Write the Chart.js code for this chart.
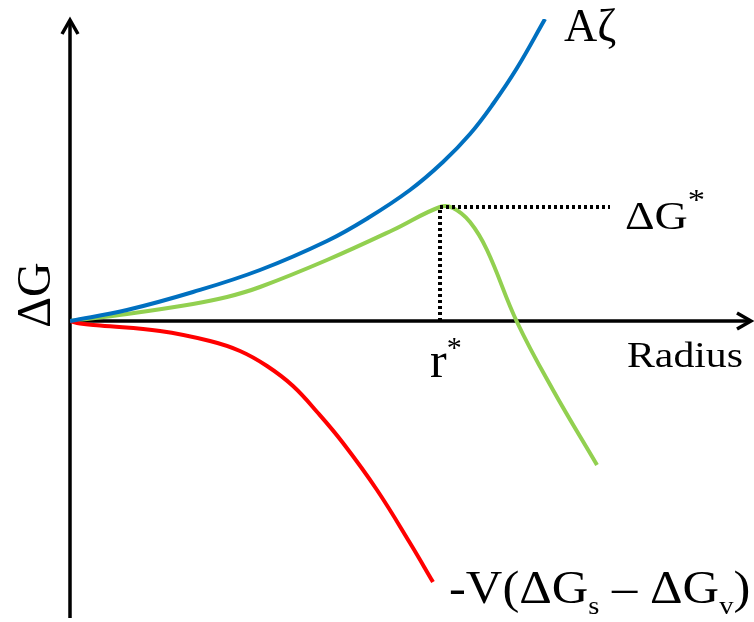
<!DOCTYPE html>
<html>
<head>
<meta charset="utf-8">
<script src="https://cdn.jsdelivr.net/npm/chart.js@4"></script>
<style>
  html, body { margin: 0; padding: 0; background: #fff; }
  #wrap { width: 754px; height: 622px; }
</style>
</head>
<body>
<div id="wrap"><canvas id="myChart"></canvas></div>
<script>
// radius / free-energy curves for nucleation
const surfaceR = [0, 0.57, 1.23, 1.90, 2.57, 2.98, 3.40, 3.73, 4.00, 4.23, 4.47, 4.75];
const surfaceG = [0, 0.11, 0.29, 0.51, 0.80, 1.03, 1.31, 1.59, 1.87, 2.17, 2.53, 3.02];

const totalR = [0, 0.57, 1.23, 1.57, 1.90, 2.57, 3.23, 3.70, 3.83, 4.00, 4.17, 4.47, 4.83, 5.27];
const totalG = [0, 0.07, 0.17, 0.24, 0.34, 0.61, 0.91, 1.14, 1.13, 0.99, 0.71, -0.01, -0.69, -1.44];

const volumeR = [0, 0.10, 0.30, 0.90, 1.40, 1.70, 1.97, 2.23, 2.48, 2.73, 3.07, 3.40, 3.63];
const volumeG = [0, -0.025, -0.045, -0.10, -0.20, -0.30, -0.45, -0.65, -0.92, -1.22, -1.69, -2.22, -2.61];

const rStar = 3.70;
const dgStar = 1.14;
const guideEnd = 5.40;

const xMax = 6.82;
const yMin = -2.97;
const yMax = 3.02;

const pts = (xs, ys) => xs.map((x, i) => ({ x: x, y: ys[i] }));

const SERIF = '"Liberation Serif", "Times New Roman", serif';

// draws a run of text pieces left to right, each with own size and baseline shift;
// sx stretches the run horizontally
function drawRun(ctx, x, y, parts, sx) {
  sx = sx || 1;
  ctx.save();
  ctx.translate(x, y);
  ctx.scale(sx, 1);
  let cx = 0;
  parts.forEach((p) => {
    ctx.font = p.size + "px " + SERIF;
    ctx.fillText(p.t, cx, p.dy || 0);
    cx += ctx.measureText(p.t).width + (p.gap || 0);
  });
  ctx.restore();
}

function arrowHead(ctx, tx, ty, dir) {
  ctx.beginPath();
  if (dir === "up") {
    ctx.moveTo(tx - 8, ty + 14);
    ctx.lineTo(tx, ty);
    ctx.lineTo(tx + 8, ty + 14);
  } else {
    ctx.moveTo(tx - 14, ty - 8);
    ctx.lineTo(tx, ty);
    ctx.lineTo(tx - 14, ty + 8);
  }
  ctx.stroke();
}

const axesPlugin = {
  id: "axesPlugin",
  beforeDatasetsDraw(chart) {
    const { ctx, chartArea, scales } = chart;
    const x0 = scales.x.getPixelForValue(0);
    const y0 = scales.y.getPixelForValue(0);
    ctx.save();
    ctx.strokeStyle = "#000";
    ctx.lineWidth = 3.5;
    ctx.lineCap = "butt";
    ctx.beginPath();
    ctx.moveTo(x0, chartArea.bottom);
    ctx.lineTo(x0, chartArea.top + 1);
    ctx.moveTo(x0, y0);
    ctx.lineTo(chartArea.right - 1, y0);
    ctx.stroke();
    ctx.lineJoin = "miter";
    arrowHead(ctx, x0, chartArea.top + 1, "up");
    arrowHead(ctx, chartArea.right - 1, y0, "right");
    ctx.restore();
  },
  afterDatasetsDraw(chart) {
    const { ctx, scales } = chart;
    const px = (v) => scales.x.getPixelForValue(v);
    const py = (v) => scales.y.getPixelForValue(v);
    ctx.save();
    ctx.fillStyle = "#000";
    ctx.textBaseline = "alphabetic";

    // curve labels
    drawRun(ctx, px(surfaceR[surfaceR.length - 1]) + 19, 41, [{ t: "A\u03B6", size: 46 }]);
    drawRun(ctx, px(guideEnd) + 15, py(dgStar) + 22, [
      { t: "\u0394G", size: 40 },
      { t: "*", size: 30, dy: -20 },
    ], 1.15);
    drawRun(ctx, px(rStar) - 10, py(0) + 56, [
      { t: "r", size: 50 },
      { t: "*", size: 30, dy: -20 },
    ]);
    drawRun(ctx, 627, py(0) + 46, [{ t: "Radius", size: 36 }], 1.16);
    drawRun(ctx, 449, 603, [
      { t: "-V(\u0394G", size: 46 },
      { t: "s", size: 26, dy: 11 },
      { t: " \u2013 \u0394G", size: 46 },
      { t: "v", size: 26, dy: 11 },
      { t: ")", size: 46 },
    ], 1.1);

    // vertical axis title
    ctx.translate(50, 295);
    ctx.rotate(-Math.PI / 2);
    ctx.textAlign = "center";
    ctx.font = "48px " + SERIF;
    ctx.fillText("\u0394G", 0, 0);
    ctx.restore();
  },
};

const ctx = document.getElementById("myChart");

const curve = (label, data, color) => ({
  label: label,
  data: data,
  borderColor: color,
  borderWidth: 4,
  showLine: true,
  tension: 0.4,
  pointRadius: 0,
});

const guide = (label, data) => ({
  label: label,
  data: data,
  borderColor: "#000",
  borderWidth: 4,
  borderDash: [3, 3],
  showLine: true,
  pointRadius: 0,
});

new Chart(ctx, {
  type: "scatter",
  data: {
    datasets: [
      guide("critical radius", [{ x: rStar, y: 0 }, { x: rStar, y: dgStar }]),
      guide("barrier", [{ x: rStar, y: dgStar }, { x: guideEnd, y: dgStar }]),
      curve("surface", pts(surfaceR, surfaceG), "#0070C0"),
      curve("volume", pts(volumeR, volumeG), "#FF0000"),
      curve("total", pts(totalR, totalG), "#92D050"),
    ],
  },
  options: {
    responsive: true,
    maintainAspectRatio: false,
    animation: false,
    layout: {
      padding: { left: 70, right: 2, top: 19, bottom: 4 },
    },
    plugins: {
      legend: false,
      tooltip: { enabled: false },
    },
    scales: {
      x: { type: "linear", min: 0, max: xMax, display: false },
      y: { min: yMin, max: yMax, display: false },
    },
  },
  plugins: [axesPlugin],
});
</script>
</body>
</html>
